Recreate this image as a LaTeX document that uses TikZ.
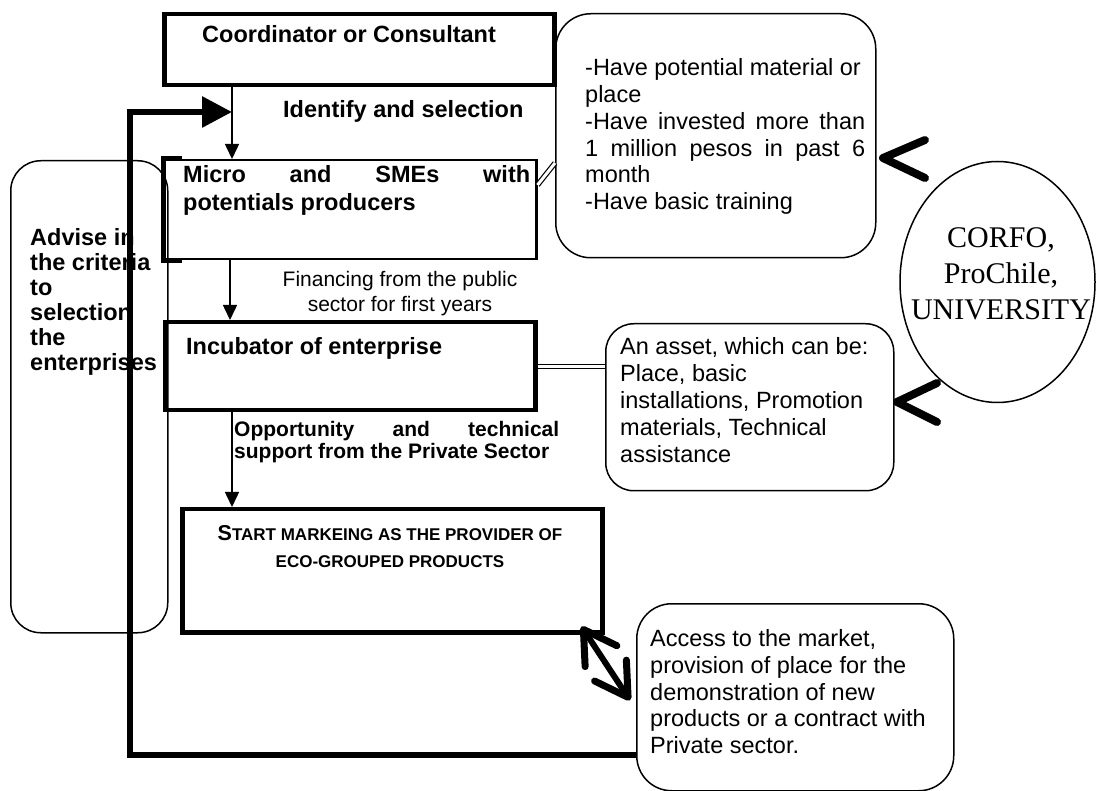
\documentclass[tikz,border=0pt]{standalone}
\usepackage{fontspec}
\setmainfont{Liberation Sans}
\newfontfamily\romanface{Liberation Serif}
\usetikzlibrary{arrows.meta,shapes.geometric}

\begin{document}
\begin{tikzpicture}[x=1pt,y=-1pt,
  heavybox/.style={draw, line width=4.5pt, inner sep=0pt, anchor=north west},
  lightbox/.style={draw, line width=2.5pt, inner sep=0pt, anchor=north west},
  softbox/.style={draw, line width=1.5pt, inner sep=0pt, anchor=north west, rounded corners=#1},
  softbox/.default=32pt,
  txt/.style={inner sep=0pt, anchor=base west},
  ctxt/.style={inner sep=0pt, anchor=base},
  flow/.style={line width=1.5pt, -{Triangle[length=15pt,width=14pt]}},
  loopline/.style={line width=6pt, -{Triangle[length=30pt,width=30pt]}},
  pairline/.style={double, line width=1.2pt, double distance=3pt},
  chev/.style={line width=8pt, line cap=round, line join=round},
  bothway/.style={line width=6pt,
    {Straight Barb[length=32pt,width=38pt,line width=7pt,round]}-{Straight Barb[length=32pt,width=38pt,line width=7pt,round]}},
]
\useasboundingbox (0,0) rectangle (1096,791);

% ---- boxes ----
\node[heavybox, minimum width=390pt, minimum height=71pt] (coord) at (162,12) {};
\node[lightbox, minimum width=372pt, minimum height=99pt] (micro) at (163,159) {};
\node[softbox=35pt, minimum width=320pt, minimum height=244pt] (crit) at (555,13) {};
\node[softbox=30pt, minimum width=157pt, minimum height=472pt] (advise) at (10,160) {};
\node[heavybox, minimum width=370pt, minimum height=88pt] (incub) at (163,320) {};
\node[softbox=28pt, minimum width=288pt, minimum height=167pt] (asset) at (605,323) {};
\node[heavybox, minimum width=420pt, minimum height=123pt] (start) at (180,507) {};
\node[softbox=35pt, minimum width=317pt, minimum height=187pt] (access) at (636,603) {};
\node[draw, ellipse, line width=1.5pt, inner sep=0pt, minimum width=195pt, minimum height=241pt] (agency) at (997.5,282) {};

% heavy bracket on the left side of the producers box
\draw[line width=5pt, line join=miter] ([xshift=19pt]micro.north west) -- (micro.north west)
  -- (micro.south west) -- ([xshift=19pt]micro.south west);

% ---- texts ----
\node[txt, font=\bfseries\fontsize{23.5}{25}\selectfont] (coordtxt) at (202,43) {Coordinator or Consultant};
\node[txt, font=\bfseries\fontsize{23.5}{25}\selectfont] (idtxt) at (283,118) {Identify and selection};
\node[txt] (microtxt) at (183,183) {\parbox[t]{347pt}{\bfseries\fontsize{23.5}{28}\selectfont
  \makebox[347pt][s]{Micro and SMEs with}\\potentials producers}};
\node[txt] (crittxt) at (585,76) {\parbox[t]{280pt}{\fontsize{23.5}{26.7}\selectfont
  -Have potential material or\\
  place\\
  \makebox[280pt][s]{-Have invested more than}\\
  \makebox[280pt][s]{1 million pesos in past 6}\\
  month\\
  -Have basic training}};
\node[ctxt] (fintxt) at (400,287) {\parbox[t]{280pt}{\centering\fontsize{21}{25}\selectfont
  Financing from the public\\sector for first years}};
\node[txt, font=\bfseries\fontsize{23.5}{25}\selectfont] (incubtxt) at (186,355) {Incubator of enterprise};
\node[txt] (assettxt) at (620,355) {\parbox[t]{265pt}{\fontsize{23.5}{27}\selectfont
  An asset, which can be:\\
  Place, basic\\
  installations, Promotion\\
  materials, Technical\\
  assistance}};
\node[txt] (opptxt) at (234,437) {\parbox[t]{325pt}{\bfseries\fontsize{21}{22}\selectfont
  \makebox[325pt][s]{Opportunity and technical}\\support from the Private Sector}};
\node[txt] (advisetxt) at (30,246) {\parbox[t]{150pt}{\bfseries\fontsize{23.5}{25}\selectfont
  Advise in\\the criteria\\to\\selection\\the\\enterprises}};
\node[ctxt] (starttxt) at (390,540) {\parbox[t]{420pt}{\centering\bfseries\fontsize{17}{28}\selectfont
  {\fontsize{21.5}{28}\selectfont S}TART MARKEING AS THE PROVIDER OF\\
  ECO-GROUPED PRODUCTS}};
\node[txt] (accesstxt) at (650,646) {\parbox[t]{295pt}{\fontsize{23.5}{27}\selectfont
  Access to the market,\\
  provision of place for the\\
  demonstration of new\\
  products or a contract with\\
  Private sector.}};
\node[ctxt] (agencytxt) at (1001,248) {\parbox[t]{200pt}{\centering\romanface\fontsize{30}{36}\selectfont
  CORFO,\\ProChile,\\UNIVERSITY}};

% ---- connectors ----
\coordinate (colA) at (232,0);
\coordinate (colB) at (230,0);
\coordinate (loopIn) at (232,112);
\coordinate (loopTL) at (130,112);
\coordinate (loopBL) at (130,755);

\draw[flow] (coord.south -| colA) -- (micro.north -| colA);
\draw[flow] (micro.south -| colB) -- (incub.north -| colB);
\draw[flow] (incub.south -| colA) -- (start.north -| colA);

\draw[pairline] ([yshift=-26pt]micro.north east) -- ([yshift=-150pt]crit.north west);
\draw[pairline] (incub.east) -- (incub.east -| asset.west);

\draw[loopline] (loopBL -| access.west) -- (loopBL) -- (loopTL) -- (loopIn);

\draw[bothway] ([xshift=-23pt,yshift=8pt]start.south east) -- ([xshift=-6pt,yshift=-3pt]access.west);

% ---- pointers beside the agencies ----
\draw[chev] (925,140) -- (883,158) -- (925,178);
\draw[chev] (937,383) -- (897,402) -- (937,422);
\end{tikzpicture}
\end{document}
